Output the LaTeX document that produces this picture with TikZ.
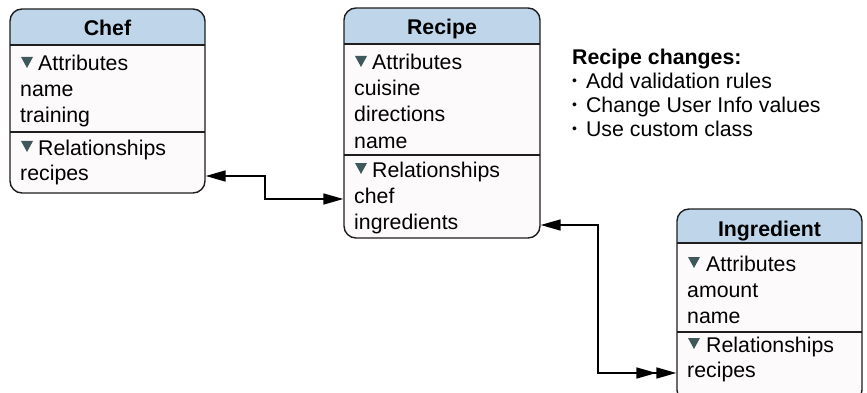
\documentclass[tikz,border=0pt]{standalone}
\usepackage{fontspec}
\setmainfont{Liberation Sans}
\usetikzlibrary{arrows.meta,fit}

\definecolor{hdrblue}{HTML}{BFD6EA}
\definecolor{bodyfill}{HTML}{FDFAFC}
\definecolor{disccol}{HTML}{3E585B}
\definecolor{edgecol}{HTML}{1E1E1E}

% Entity box: #1 name, #2 left, #3 top, #4 right, #5 bottom,
% #6 header bottom, #7 divider between attributes and relationships
\newcommand\entitybox[7]{%
  \fill[bodyfill, rounded corners=12pt] (#2,#3) rectangle (#4,#5);
  \begin{scope}
    \clip[rounded corners=12pt] (#2,#3) rectangle (#4,#5);
    \fill[hdrblue] (#2,#3) rectangle (#4,#6);
  \end{scope}
  \draw[rule] (#2,#6) -- (#4,#6);
  \draw[rule] (#2,#7) -- (#4,#7);
  \node[entity, fit={(#2,#3) (#4,#5)}] (#1) {};
}
% small raised bullet for the notes list
\newcommand\notebullet{\raisebox{3pt}{\fontsize{14}{14}\selectfont •}\hspace{9pt}}

\begin{document}
\begin{tikzpicture}[x=1pt, y=-1pt,
  font=\fontsize{21.3}{25}\selectfont,
  row/.style={anchor=base west, inner sep=0pt, text height=14pt, text depth=6pt},
  title/.style={anchor=base, inner sep=0pt, font=\fontsize{21.3}{25}\selectfont\bfseries},
  entity/.style={draw=edgecol, line width=1.4pt, rounded corners=12pt, inner sep=0pt},
  rule/.style={draw=edgecol, line width=1.1pt},
  conn/.style={line width=1.7pt, black},
  disc/.pic={\fill[disccol] (0,0) -- (12,0) -- (6,11) -- cycle;},
]
\useasboundingbox (0,0) rectangle (867,393);
\clip (0,0) rectangle (867,393);

% ---- Chef ----
\entitybox{chef}{10}{9}{205}{193}{45}{132}
\node[title] (chef-title) at (107.5,36) {Chef};
\pic at (21,57) {disc};
\node[row] (chef-attr) at (38,71) {Attributes};
\node[row] (chef-name) at (20,97) {name};
\node[row] (chef-training) at (20,123) {training};
\pic at (21,141) {disc};
\node[row] (chef-rel) at (38,155) {Relationships};
\node[row] (chef-recipes) at (20,180) {recipes};

% ---- Recipe ----
\entitybox{recipe}{344}{8}{540}{238}{44}{155}
\node[title] (recipe-title) at (442,35) {Recipe};
\pic at (355,56) {disc};
\node[row] (recipe-attr) at (372,70) {Attributes};
\node[row] (recipe-cuisine) at (354,96) {cuisine};
\node[row] (recipe-directions) at (354,122) {directions};
\node[row] (recipe-name) at (354,148) {name};
\pic at (355,163) {disc};
\node[row] (recipe-rel) at (372,177) {Relationships};
\node[row] (recipe-chef) at (354,203) {chef};
\node[row] (recipe-ingr) at (354,229) {ingredients};

% ---- Ingredient ----
\entitybox{ingr}{677}{209}{862}{402}{243}{332}
\node[title] (ingr-title) at (769.5,236) {Ingredient};
\pic at (688,257) {disc};
\node[row] (ingr-attr) at (706,271) {Attributes};
\node[row] (ingr-amount) at (687,297) {amount};
\node[row] (ingr-name) at (687,323) {name};
\pic at (688,338) {disc};
\node[row] (ingr-rel) at (706,352) {Relationships};
\node[row] (ingr-recipes) at (687,377) {recipes};

% ---- Notes ----
\node[row] (note-head) at (572,65) {\bfseries Recipe changes:};
\node[row] (note-a) at (572,89) {\notebullet Add validation rules};
\node[row] (note-b) at (572,112.5) {\notebullet Change User Info values};
\node[row] (note-c) at (572,136) {\notebullet Use custom class};

% ---- Relationship connectors ----
\coordinate (elbowA) at (265,0);
\coordinate (elbowB) at (598,0);
\draw[conn, {Triangle[length=20pt, width=11pt]}-{Triangle[length=20pt, width=11pt]}]
  (chef.east |- chef-recipes) -| (elbowA |- recipe-chef) -- (recipe.west |- recipe-chef);
\draw[conn, {Triangle[length=20pt, width=11pt]}-{Triangle[length=20pt, width=11pt, sep=0pt] Triangle[length=20pt, width=11pt]}]
  (recipe.east |- recipe-ingr) -| (elbowB |- ingr-recipes) -- (ingr.west |- ingr-recipes);
\end{tikzpicture}
\end{document}
